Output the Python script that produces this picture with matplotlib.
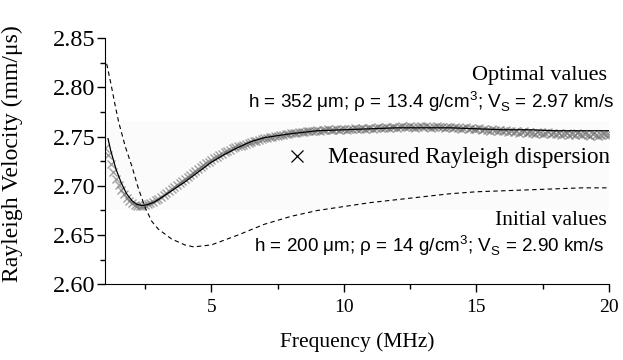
import numpy as np
import matplotlib
matplotlib.use("Agg")
import matplotlib.pyplot as plt

# measured Rayleigh dispersion, 0.1 MHz steps from 1.0 to 20.0 MHz
freq_meas = np.round(np.arange(10, 201) / 10.0, 1)
v_meas = [
    2.738, 2.731, 2.722, 2.714, 2.707, 2.701, 2.696, 2.692, 2.688, 2.685,   # 1.0-1.9
    2.683, 2.681, 2.680, 2.680, 2.680, 2.681, 2.682, 2.683, 2.684, 2.686,   # 2.0-2.9
    2.687, 2.689, 2.691, 2.693, 2.695, 2.697, 2.699, 2.701, 2.703, 2.705,   # 3.0-3.9
    2.707, 2.709, 2.711, 2.713, 2.715, 2.717, 2.719, 2.721, 2.723, 2.724,   # 4.0-4.9
    2.726, 2.728, 2.729, 2.731, 2.732, 2.734, 2.735, 2.736, 2.738, 2.739,   # 5.0-5.9
    2.740, 2.741, 2.742, 2.743, 2.744, 2.745, 2.746, 2.746, 2.747, 2.748,   # 6.0-6.9
    2.749, 2.749, 2.750, 2.750, 2.751, 2.751, 2.752, 2.752, 2.753, 2.753,   # 7.0-7.9
    2.754, 2.754, 2.754, 2.755, 2.755, 2.755, 2.756, 2.756, 2.756, 2.756,   # 8.0-8.9
    2.757, 2.756, 2.757, 2.757, 2.758, 2.757, 2.757, 2.758, 2.757, 2.758,   # 9.0-9.9
    2.758, 2.757, 2.758, 2.758, 2.759, 2.758, 2.758, 2.759, 2.758, 2.759,   # 10.0-10.9
    2.759, 2.758, 2.759, 2.760, 2.759, 2.759, 2.760, 2.759, 2.760, 2.760,   # 11.0-11.9
    2.759, 2.760, 2.761, 2.760, 2.760, 2.761, 2.760, 2.759, 2.760, 2.761,   # 12.0-12.9
    2.760, 2.761, 2.760, 2.759, 2.760, 2.761, 2.760, 2.760, 2.759, 2.760,   # 13.0-13.9
    2.760, 2.759, 2.760, 2.759, 2.758, 2.759, 2.760, 2.758, 2.759, 2.758,   # 14.0-14.9
    2.758, 2.759, 2.757, 2.758, 2.757, 2.756, 2.758, 2.757, 2.756, 2.757,   # 15.0-15.9
    2.756, 2.757, 2.755, 2.756, 2.755, 2.756, 2.754, 2.755, 2.756, 2.754,   # 16.0-16.9
    2.755, 2.754, 2.753, 2.755, 2.754, 2.753, 2.754, 2.755, 2.753, 2.754,   # 17.0-17.9
    2.753, 2.754, 2.752, 2.753, 2.754, 2.752, 2.753, 2.752, 2.754, 2.753,   # 18.0-18.9
    2.752, 2.753, 2.752, 2.751, 2.753, 2.752, 2.751, 2.752, 2.753, 2.752,   # 19.0-19.9
    2.752,                                                                 # 20.0
]

# fitted curve with optimal values
freq_opt = [1.1, 1.2, 1.4, 1.6, 1.8, 2.0, 2.2, 2.4, 2.6, 2.8, 3.0, 3.5, 4.0, 4.5,
            5.0, 5.5, 6.0, 6.5, 7.0, 8.0, 9.0, 10, 11, 12, 13, 14, 15, 16, 17,
            18, 19, 20]
v_opt = [2.748, 2.736, 2.717, 2.703, 2.692, 2.685, 2.681, 2.680, 2.681, 2.683,
         2.686, 2.695, 2.704, 2.714, 2.724, 2.732, 2.739, 2.745, 2.749, 2.753,
         2.756, 2.757, 2.758, 2.759, 2.759, 2.759, 2.758, 2.757, 2.757, 2.756,
         2.756, 2.756]

# curve with initial values
freq_init = [1.05, 1.2, 1.36, 1.5, 1.75, 2.0, 2.25, 2.5, 2.75, 3.0, 3.5, 4.0,
             4.33, 5.0, 6.0, 7.0, 8.0, 9.0, 10, 11, 12, 13, 14, 15, 16, 17, 18,
             19, 20]
v_init = [2.824, 2.805, 2.783, 2.765, 2.740, 2.720, 2.697, 2.678, 2.664, 2.656,
          2.646, 2.640, 2.638, 2.640, 2.650, 2.661, 2.669, 2.675, 2.679, 2.683,
          2.686, 2.689, 2.692, 2.694, 2.695, 2.696, 2.697, 2.698, 2.698]

serif = "Liberation Serif"
sans = "Liberation Sans"
plt.rcParams["mathtext.fontset"] = "custom"
plt.rcParams["mathtext.rm"] = sans

fig = plt.figure(figsize=(6.23, 3.6), dpi=100)
ax = fig.add_axes([0.1685, 0.2103, 0.809, 0.6835])

ax.axhspan(2.675, 2.766, color="#fbfbfb", zorder=0, lw=0)

ax.plot(freq_meas, v_meas, ls="none", marker="x", ms=5.5, mew=1.0,
        color="#6e6e6e", alpha=0.65, zorder=2)
ax.plot(freq_opt, v_opt, color="black", lw=0.9, zorder=3)
ax.plot(freq_init, v_init, color="black", lw=0.8, dashes=(4, 3), zorder=3)

ax.set_xlim(0.985, 20)
ax.set_ylim(2.60, 2.85)
ax.set_xticks([5, 10, 15, 20])
ax.set_xticks([2.5, 7.5, 12.5, 17.5], minor=True)
ax.set_yticks([2.60, 2.65, 2.70, 2.75, 2.80, 2.85])
ax.set_yticks([2.625, 2.675, 2.725, 2.775, 2.825], minor=True)
ax.set_yticklabels(["2.60", "2.65", "2.70", "2.75", "2.80", "2.85"])

for s in ["top", "right"]:
    ax.spines[s].set_visible(False)
ax.tick_params(which="major", length=5.8, width=1, direction="out")
ax.tick_params(which="minor", length=3.6, width=1, direction="out")
ax.tick_params(axis="x", labelsize=14, pad=4.5)
ax.tick_params(axis="y", labelsize=17.5, pad=1)
for lab in ax.get_xticklabels() + ax.get_yticklabels():
    lab.set_fontfamily(serif)

ax.set_xlabel("Frequency (MHz)", fontfamily=serif, fontsize=15.5)
ax.xaxis.set_label_coords(0.5, -0.195)
ax.set_ylabel("Rayleigh Velocity (mm/\u03bcs)", fontfamily=serif, fontsize=17)
ax.yaxis.set_label_coords(-0.162, 0.53)

ax.text(19.93, 2.808, "Optimal values", fontfamily=serif, fontsize=16, ha="right", va="baseline")
ax.text(20.19, 2.779, "h = 352 \u03bcm; \u03c1 = 13.4 g/cm$^3$; V$_\\mathrm{S}$ = 2.97 km/s",
        fontfamily=sans, fontsize=13.6, ha="right", va="baseline")
ax.plot([8.23], [2.7304], marker="x", ms=8, mew=0.9, color="black", ls="none",
        clip_on=False)
ax.text(20.02, 2.7236, "Measured Rayleigh dispersion", fontfamily=serif, fontsize=16.7,
        ha="right", va="baseline")
ax.text(19.93, 2.660, "Initial values", fontfamily=serif, fontsize=15.5, ha="right", va="baseline")
ax.text(19.85, 2.633, "h = 200 \u03bcm; \u03c1 = 14 g/cm$^3$; V$_\\mathrm{S}$ = 2.90 km/s",
        fontfamily=sans, fontsize=13.6, ha="right", va="baseline")

fig.savefig("out.png", dpi=100)
